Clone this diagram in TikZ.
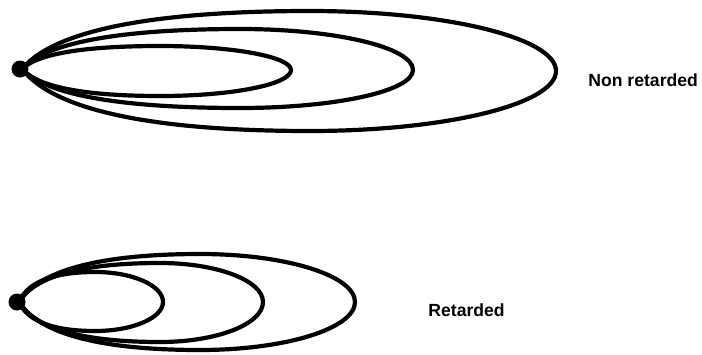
\documentclass[tikz,border=0pt]{standalone}
\usepackage{fontspec}
\setmainfont{Liberation Sans}
\tikzset{
  loopline/.style={draw=black, line width=2.1pt, line join=round, line cap=round},
  blob/.style={circle, fill=black, inner sep=0pt, minimum size=8.5pt},
  lbl/.style={font=\fontsize{8.8}{10}\selectfont\bfseries, inner sep=0pt, anchor=base west}
}
% xL yL xp yt yb xR yR
\newcommand\drawloop[7]{%
  \draw[loopline] (#1,#2) .. controls ({#1+0.12*(#3-#1)},{#2-0.72*(#2-#4)}) and ({#3-0.5*(#3-#1)},#4) .. (#3,#4)
    .. controls ({#3+0.552*(#6-#3)},#4) and (#6,{#7-0.552*(#7-#4)}) .. (#6,#7)
    .. controls (#6,{#7+0.552*(#5-#7)}) and ({#3+0.552*(#6-#3)},#5) .. (#3,#5)
    .. controls ({#3-0.5*(#3-#1)},#5) and ({#1+0.12*(#3-#1)},{#2+0.72*(#5-#2)}) .. (#1,#2);}
\begin{document}
\begin{tikzpicture}[x=0.5pt,y=-0.5pt]
\useasboundingbox (0,0) rectangle (702,354);
% top group
\drawloop{22}{69}{160}{46}{96}{291}{70}
\drawloop{22}{69}{240}{29}{108}{413}{70}
\drawloop{22}{69}{310}{11}{131}{556}{71}
\node[blob] (dotA) at (20,69) {};
\node[lbl] (nr) at (588,86.5) {Non retarded};
% bottom group
\drawloop{19}{302}{95}{272}{331}{163}{302}
\drawloop{19}{302}{160}{263}{342}{263}{302}
\drawloop{19}{302}{200}{254}{350}{355}{302}
\node[blob] (dotB) at (17,302) {};
\node[lbl] (rt) at (428,316.5) {Retarded};
\end{tikzpicture}
\end{document}
